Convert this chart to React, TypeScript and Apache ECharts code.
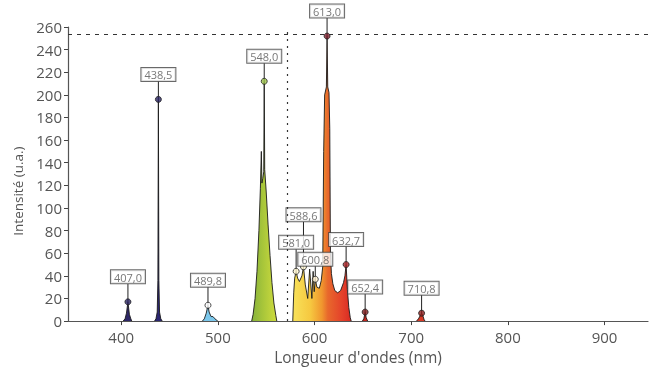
import React, { useEffect, useRef } from "react";
import * as echarts from "echarts";

// Spectrum bands: [wavelength nm, intensity u.a.]
const band407 = [[402, 0], [404, 2], [405.5, 7], [407, 17], [408.5, 6], [410, 2], [411, 0]];
const band438 = [[434.5, 0], [436, 2], [437.3, 8], [438, 36], [438.5, 196], [439, 36], [439.7, 8], [441, 2], [442.5, 0]];
const band490 = [[484, 0], [486, 2], [488, 7], [489.8, 14], [491, 8], [493, 4], [495, 4], [497, 2], [500, 0]];
const band548 = [[535, 0], [536.5, 6], [538.5, 20], [540.5, 44], [542.5, 80], [544, 117], [545, 150], [545.6, 122], [546.5, 126], [547.5, 132], [548, 212], [548.5, 134], [550, 115], [552, 85], [554, 58], [556, 34], [558, 16], [560, 5], [561, 0]];
const band600 = [[577.5, 0], [578.5, 25], [579.5, 38], [581, 44], [582.5, 38], [584.4, 35], [587, 40], [588.6, 48], [590.5, 32], [593, 20], [595, 46], [597.3, 20], [598.6, 44], [599.7, 26], [600.8, 37], [602.5, 30], [605, 29], [607, 36], [608.5, 48], [609.5, 150], [610.5, 200], [612.3, 207], [613, 252], [613.7, 207], [615, 202], [615.8, 170], [616.5, 60], [617.5, 42], [619, 33], [621, 27], [624, 25], [627, 27], [630, 34], [631.5, 40], [632.7, 50], [634, 28], [635.5, 12], [637, 3], [638, 0]];
const band652 = [[649.5, 0], [651, 2], [652.4, 8], [653.5, 3], [655, 0]];
const band711 = [[705.5, 0], [707.5, 2], [709.5, 5], [710.8, 7], [712, 5], [713.5, 1], [714.5, 0]];

// Annotated peaks
const peakWavelengths = [407.0, 438.5, 489.8, 548.0, 613.0, 581.0, 588.6, 600.8, 632.7, 652.4, 710.8];
const peakIntensities = [17, 196, 14, 212, 252, 44, 48, 37, 50, 8, 7];
const peakMarkerColors = ["#2a2462", "#2a2462", "#ffffff", "#9cc24a", "#7a1e2c", "#fff6d0", "#fff6d0", "#fff0d0", "#a82224", "#7a1a1a", "#8a1c1c"];

// Crosshair
const crossX = 572;
const crossY = 254;

// Axis ticks
const xTicks = [400, 500, 600, 700, 800, 900];

const FONT = "'Open Sans', 'DejaVu Sans', sans-serif";

function bandSeries(data: number[][], fill: any) {
  return {
    type: "line",
    data,
    symbol: "none",
    smooth: false,
    z: 2,
    lineStyle: { color: "#1a1a1a", width: 0.9 },
    areaStyle: { color: fill, opacity: 1 },
  };
}

const hgrad = (stops: [number, string][]) =>
  new echarts.graphic.LinearGradient(0, 0, 1, 0, stops.map(([offset, color]) => ({ offset, color })));

export default function App() {
  const ref = useRef<HTMLDivElement>(null);
  useEffect(() => {
    if (!ref.current) return;
    const chart = echarts.init(ref.current, null, { renderer: "svg" });

    const stickLen = (wl: number) => (wl === 588.6 ? 45 : wl === 581.0 ? 22 : wl === 600.8 ? 13 : 18);
    const peakData = peakWavelengths.map((wl, i) => ({
      value: [wl, peakIntensities[i]],
      itemStyle: { color: peakMarkerColors[i], borderColor: "#222", borderWidth: 1 },
      label: { distance: stickLen(wl) - 3 },
    }));
    const stickData = peakWavelengths.map((wl, i) => [wl, peakIntensities[i], stickLen(wl)]);

    chart.setOption({
      animation: false,
      textStyle: { fontFamily: FONT },
      grid: { left: 68, right: 9, top: 27, bottom: 47 },
      xAxis: {
        type: "value",
        min: 345,
        max: 945,
        name: "Longueur d'ondes (nm)",
        nameLocation: "middle",
        nameGap: 24,
        nameTextStyle: { color: "#555", fontSize: 15.5, fontFamily: FONT },
        splitLine: { show: false },
        axisLine: { lineStyle: { color: "#555", width: 1.2 } },
        axisTick: { customValues: xTicks, length: 4, lineStyle: { color: "#444" } },
        axisLabel: { customValues: xTicks, color: "#555", fontSize: 15, margin: 8, fontFamily: FONT },
      },
      yAxis: {
        type: "value",
        min: 0,
        max: 260,
        interval: 20,
        name: "Intensité (u.a.)",
        nameLocation: "middle",
        nameGap: 42,
        nameTextStyle: { color: "#555", fontSize: 13.5, fontFamily: FONT, padding: [0, 34, 0, 0] },
        splitLine: { show: false },
        axisLine: { show: true, lineStyle: { color: "#555", width: 1.2 } },
        axisTick: { show: true, length: 4, lineStyle: { color: "#444" } },
        axisLabel: { color: "#555", fontSize: 15, margin: 6, fontFamily: FONT },
      },
      series: [
        {
          ...bandSeries(band407, "#2e2766"),
          markLine: {
            silent: true,
            symbol: "none",
            label: { show: false },
            animation: false,
            data: [
              { yAxis: crossY, lineStyle: { type: [4, 5], color: "#333", width: 1 } },
              { xAxis: crossX, lineStyle: { type: [2, 5], color: "#333", width: 1.2 } },
            ],
          },
        },
        bandSeries(band438, "#2b2670"),
        bandSeries(band490, "#7cc8ec"),
        bandSeries(band548, hgrad([[0, "#86b23c"], [0.45, "#a8c63a"], [1, "#cfdc3e"]])),
        bandSeries(
          band600,
          hgrad([
            [0, "#f8e25a"],
            [0.3, "#f6c840"],
            [0.5, "#f0962e"],
            [0.6, "#e8682c"],
            [0.85, "#e4402a"],
            [1, "#d82a22"],
          ])
        ),
        bandSeries(band652, "#c4261e"),
        bandSeries(band711, "#d83a26"),
        {
          type: "custom",
          z: 3,
          silent: true,
          data: stickData,
          renderItem: (params: any, api: any) => {
            const p = api.coord([api.value(0), api.value(1)]);
            const len = api.value(2);
            return {
              type: "line",
              shape: { x1: p[0], y1: p[1], x2: p[0], y2: p[1] - len },
              style: { stroke: "#222", lineWidth: 1 },
            };
          },
        },
        {
          type: "scatter",
          z: 4,
          symbol: "circle",
          symbolSize: 6,
          data: peakData,
          label: {
            show: true,
            position: "top",
            formatter: (p: any) => p.value[0].toFixed(1).replace(".", ","),
            color: "#555",
            fontSize: 11,
            fontFamily: FONT,
            backgroundColor: "#fff",
            borderColor: "#444",
            borderWidth: 1,
            padding: [1, 3, 0, 3],
            lineHeight: 12,
          },
        },
      ],
    });
    return () => chart.dispose();
  }, []);
  return <div ref={ref} style={{ position: "fixed", left: 0, top: 0, width: 657, height: 370 }} />;
}
